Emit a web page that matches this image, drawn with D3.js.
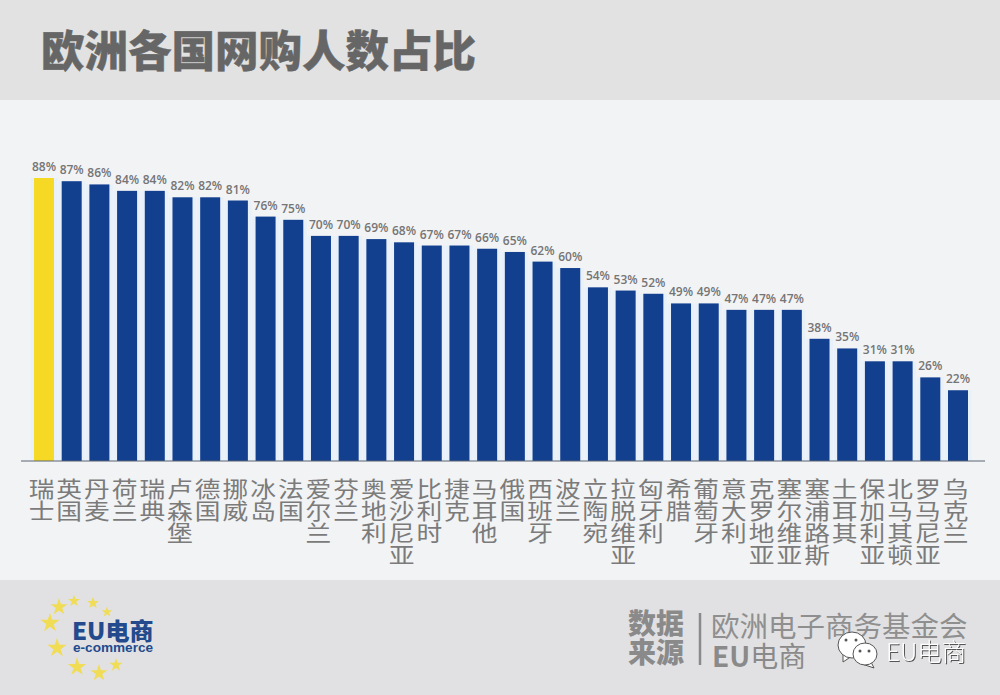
<!DOCTYPE html>
<html>
<head>
<meta charset="utf-8">
<script src="https://cdn.jsdelivr.net/npm/d3@7"></script>
<style>
  html, body { margin: 0; padding: 0; background: #f2f3f5; }
  svg { display: block; }
  text { font-family: "Noto Sans CJK SC", sans-serif; }
</style>
</head>
<body>
<svg id="chart" width="1000" height="695"></svg>
<script>
const countries = ['瑞士', '英国', '丹麦', '荷兰', '瑞典', '卢森堡', '德国', '挪威', '冰岛', '法国', '爱尔兰', '芬兰',
  '奥地利', '爱沙尼亚', '比利时', '捷克', '马耳他', '俄国', '西班牙', '波兰', '立陶宛', '拉脱维亚', '匈牙利', '希腊',
  '葡萄牙', '意大利', '克罗地亚', '塞尔维亚', '塞浦路斯', '土耳其', '保加利亚', '北马其顿', '罗马尼亚', '乌克兰'];
const shares = [88, 87, 86, 84, 84, 82, 82, 81, 76, 75, 70, 70, 69, 68, 67, 67, 66, 65, 62, 60, 54, 53, 52, 49, 49, 47, 47, 47, 38, 35, 31, 31, 26, 22];

const svg = d3.select('#chart');
const baseY = 461;

// page bands
svg.append('rect').attr('width', 1000).attr('height', 695).attr('fill', '#f2f3f5');
svg.append('rect').attr('width', 1000).attr('height', 100).attr('fill', '#e2e2e2');
svg.append('rect').attr('y', 580).attr('width', 1000).attr('height', 115).attr('fill', '#e1e1e3');

svg.append('text')
  .attr('x', 41)
  .attr('y', 67)
  .attr('font-size', 43.5)
  .attr('font-weight', 900)
  .attr('fill', '#666')
  .attr('stroke', '#666')
  .attr('stroke-width', 0.4)
  .text('欧洲各国网购人数占比');

const x = d3.scaleBand()
  .domain(countries)
  .range([34, 968])
  .paddingInner(0.278)
  .paddingOuter(0);
const y = d3.scaleLinear()
  .domain([0, 88])
  .range([baseY, 178]);

const rows = countries.map((c, i) => ({ country: c, share: shares[i] }));

// pale halo beside the bars
svg.append('g').selectAll('rect')
  .data(rows)
  .join('rect')
  .attr('x', d => x(d.country) - 3.5)
  .attr('y', d => y(d.share))
  .attr('width', x.bandwidth() + 7)
  .attr('height', d => baseY - y(d.share))
  .attr('fill', '#e8f1fa');

svg.append('g').selectAll('rect')
  .data(rows)
  .join('rect')
  .attr('x', d => x(d.country))
  .attr('y', d => y(d.share))
  .attr('width', x.bandwidth())
  .attr('height', d => baseY - y(d.share))
  .attr('fill', (d, i) => i === 0 ? '#f6d925' : '#123f8e');

svg.append('g').selectAll('text')
  .data(rows)
  .join('text')
  .attr('x', d => x(d.country) + x.bandwidth() / 2)
  .attr('y', d => y(d.share) - 7)
  .attr('text-anchor', 'middle')
  .attr('font-size', 12)
  .attr('font-weight', 600)
  .attr('fill', '#757575')
  .style('font-family', '"Open Sans", sans-serif')
  .text(d => d.share + '%');

// axis with the names written top to bottom, glyphs a bit wider than tall like the original
const axis = svg.append('g')
  .attr('transform', 'translate(0,' + baseY + ')')
  .call(d3.axisBottom(x).tickSize(0).tickFormat(''));
axis.select('.domain').remove();
axis.append('line')
  .attr('x1', 21)
  .attr('x2', 985)
  .attr('stroke', '#5a6472')
  .attr('stroke-width', 1);
axis.selectAll('.tick text').remove();
axis.selectAll('.tick').each(function(d) {
  let label = d3.select(this).append('text')
    .attr('transform', 'translate(-2.5,0) scale(1.17,1)')
    .attr('text-anchor', 'middle')
    .attr('font-size', 22)
    .attr('font-weight', 400)
    .attr('fill', '#7b7b7b');
  Array.from(d).forEach((ch, i) => {
    label.append('tspan').attr('x', 0).attr('y', 36 + i * 22).text(ch);
  });
});

// logo
const stars = [[74, 601, 45], [93, 603, 45], [107, 612, 35], [59, 607, 90], [50, 623, 115], [57, 648, 115], [77, 667, 105], [99, 673, 90], [116, 665, 55]];
svg.append('g').selectAll('path')
  .data(stars)
  .join('path')
  .attr('transform', d => 'translate(' + d[0] + ',' + d[1] + ')')
  .attr('d', d => d3.symbol(d3.symbolStar, d[2])())
  .attr('fill', '#f0dc55');
svg.append('text')
  .attr('x', 72)
  .attr('y', 640)
  .attr('font-size', 24)
  .attr('font-weight', 900)
  .attr('fill', '#234a8c')
  .text('EU电商');
svg.append('text')
  .attr('x', 73)
  .attr('y', 652)
  .attr('font-size', 13.6)
  .attr('font-weight', 700)
  .attr('fill', '#234a8c')
  .style('font-family', '"Liberation Sans", sans-serif')
  .text('e-commerce');

// source block
const sourceLabel = ['数据', '来源'];
svg.append('g').selectAll('text')
  .data(sourceLabel)
  .join('text')
  .attr('x', 628)
  .attr('y', (d, i) => 634 + i * 29)
  .attr('font-size', 28)
  .attr('font-weight', 900)
  .attr('fill', '#8a8a8a')
  .text(d => d);
svg.append('line')
  .attr('x1', 700).attr('x2', 700)
  .attr('y1', 613).attr('y2', 665)
  .attr('stroke', '#8a8a8a')
  .attr('stroke-width', 2.5);
svg.append('text')
  .attr('x', 711)
  .attr('y', 637)
  .attr('font-size', 28.5)
  .attr('font-weight', 400)
  .attr('fill', '#8f8f8f')
  .text('欧洲电子商务基金会');
let eu = svg.append('text')
  .attr('x', 712)
  .attr('y', 667)
  .attr('font-size', 28)
  .attr('fill', '#8a8a8a');
eu.append('tspan').attr('font-weight', 700).text('EU');
eu.append('tspan').attr('font-weight', 400).text('电商');

// watermark
const wm = svg.append('g');
wm.append('path').attr('d', 'M843,652 L843,662 L852,656 Z').attr('fill', '#fff').attr('stroke', '#555');
wm.append('ellipse').attr('cx', 852).attr('cy', 645).attr('rx', 14).attr('ry', 13)
  .attr('fill', '#fff').attr('stroke', '#555');
wm.append('path').attr('d', 'M870,660 L874,668 L862,664 Z').attr('fill', '#fff').attr('stroke', '#555');
wm.append('ellipse').attr('cx', 865).attr('cy', 654).attr('rx', 12).attr('ry', 11)
  .attr('fill', '#fff').attr('stroke', '#555');
[[846, 640], [856, 640], [860, 651], [869, 651]].forEach(p => {
  wm.append('circle').attr('cx', p[0]).attr('cy', p[1]).attr('r', 1.5).attr('fill', '#555');
});
wm.append('text')
  .attr('x', 886).attr('y', 661)
  .attr('font-size', 24.5)
  .attr('font-weight', 300)
  .attr('fill', '#fff')
  .style('filter', 'drop-shadow(1px 1px 0.6px #555)')
  .text('EU电商');
</script>
</body>
</html>
